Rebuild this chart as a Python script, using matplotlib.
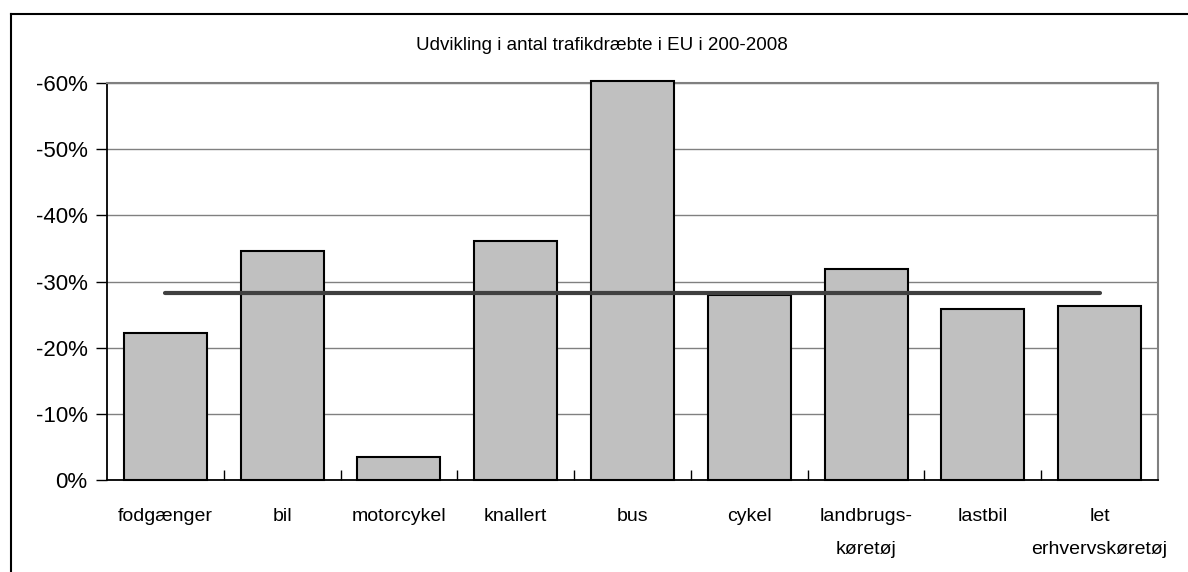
import matplotlib
matplotlib.use("Agg")
import matplotlib.pyplot as plt
from matplotlib.ticker import FuncFormatter, MultipleLocator
from matplotlib.lines import Line2D

plt.rcParams['font.family'] = ['Liberation Sans', 'DejaVu Sans']

categories = ["fodgænger", "bil", "motorcykel", "knallert", "bus", "cykel",
              "landbrugs-\nkøretøj", "lastbil", "let\nerhvervskøretøj"]
values = [-22.2, -34.6, -3.5, -36.1, -60.3, -28.0, -31.9, -25.8, -26.3]
average = -28.3
title = "Udvikling i antal trafikdræbte i EU i 200-2008"

W, H = 1188, 572
fig = plt.figure(figsize=(W / 100, H / 100), dpi=100)
ax = fig.add_axes([107 / W, 1 - 480 / H, (1158 - 107) / W, (480 - 83) / H])

x = list(range(len(categories)))
bars = ax.bar(x, values, width=0.71, color="#c0c0c0", edgecolor="black", linewidth=1.5, zorder=3)
for b in bars:
    b.set_clip_on(False)
ax.plot([x[0], x[-1]], [average, average], color="#404040", linewidth=3, zorder=4,
        solid_capstyle="round")

ax.set_xlim(-0.5, len(categories) - 0.5)
ax.set_ylim(0, -60)
ax.yaxis.set_major_locator(MultipleLocator(10))
ax.yaxis.set_major_formatter(FuncFormatter(lambda v, p: f"{v:.0f}%" if v != 0 else "0%"))
ax.grid(axis="y", color="#808080", linewidth=1, zorder=0)
ax.set_axisbelow(True)

ax.set_xticks(x)
ax.set_xticklabels(categories, fontsize=14, linespacing=2.25, va="top")
ax.tick_params(axis="x", length=0, pad=20)
ax.set_xticks([i + 0.5 for i in x[:-1]], minor=True)
ax.tick_params(axis="x", which="minor", direction="in", length=7, width=1, color="black")
ax.tick_params(axis="y", direction="out", length=8, width=1, labelsize=16, pad=6, color="black")

for s in ["left", "bottom"]:
    ax.spines[s].set_color("black")
    ax.spines[s].set_linewidth(1.3)
ax.spines["right"].set_color("#808080")
ax.spines["right"].set_linewidth(1.5)
ax.spines["top"].set_color("#808080")
ax.spines["top"].set_linewidth(1.5)

fig.text(602 / W, 1 - 45 / H, title, ha="center", va="center", fontsize=13.5)

# outer chart border (top and left)
fig.add_artist(Line2D([11 / W, 1.0], [1 - 13.5 / H, 1 - 13.5 / H], color="black", linewidth=1.5,
                      transform=fig.transFigure))
fig.add_artist(Line2D([11 / W, 11 / W], [0, 1 - 13.5 / H], color="black", linewidth=1.5,
                      transform=fig.transFigure))

fig.savefig("out.png", dpi=100)
